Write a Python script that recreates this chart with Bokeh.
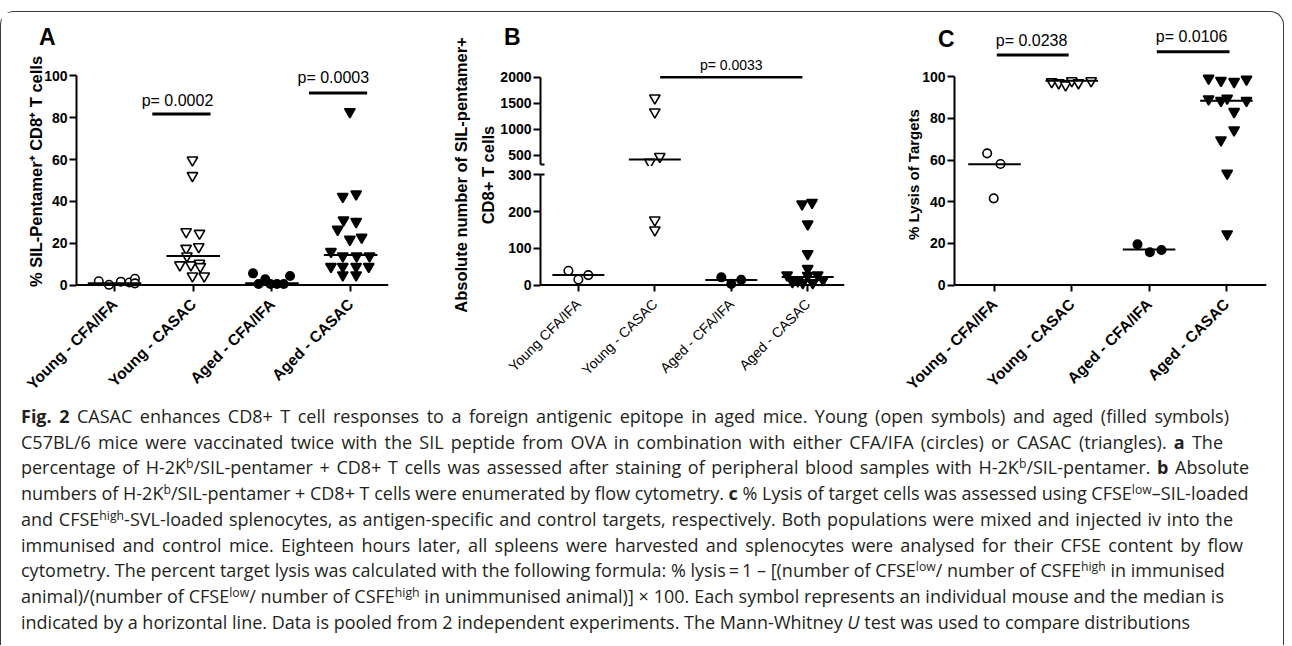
import math
from bokeh.plotting import figure
from bokeh.models import Range1d, FixedTicker, Span, Div, LinearAxis
from bokeh.layouts import row, column
from bokeh.core.properties import value
from bokeh.embed import file_html
from bokeh.resources import INLINE

FONT = "Liberation Sans"

# ---------------- data ----------------
groups_a = ["Young - CFA/IFA", "Young - CASAC", "Aged - CFA/IFA", "Aged - CASAC"]
groups_b = ["Young CFA/IFA", "Young - CASAC", "Aged - CFA/IFA", "Aged - CASAC"]
groups_c = ["Young - CFA/IFA", "Young - CASAC", "Aged - CFA/IFA", "Aged - CASAC"]

# Panel A: % SIL-pentamer+ CD8+ T cells (values, horizontal jitter in group widths)
a_young_cfa = [1.8, 0.1, 1.6, 1.2, 3.0, 0.8]
a_young_cfa_jit = [-0.20, -0.07, 0.08, 0.19, 0.26, 0.26]
a_young_casac = [59.8, 52.3, 25.5, 24.7, 17.5, 18.3, 13.9, 9.6, 9.6, 10.4, 8.8, 4.3, 4.3]
a_young_casac_jit = [-0.01, -0.01, -0.09, 0.08, -0.09, 0.07, -0.08, -0.17, -0.03, 0.08, 0.09, -0.01, 0.14]
a_aged_cfa = [5.6, 2.7, 0.5, 0.5, 0.5, 0.5, 4.3]
a_aged_cfa_jit = [-0.24, -0.085, -0.17, -0.02, 0.064, 0.15, 0.23]
a_aged_casac = [82.9, 42.3, 43.5, 31.1, 30.3, 26.6, 21.8, 22.8, 16.0, 13.9, 13.9, 13.9,
                8.8, 8.8, 8.8, 8.8, 4.8, 4.8]
a_aged_casac_jit = [-0.01, -0.10, 0.07, -0.09, 0.07, -0.165, -0.01, 0.14, -0.25, -0.10, 0.076, 0.24,
                    -0.25, -0.10, 0.07, 0.23, -0.10, 0.07]
a_medians = [0.8, 13.9, 0.8, 14.4]
a_p_text = ["p= 0.0002", "p= 0.0003"]
a_p_from = [1.48, 3.47]
a_p_to = [2.22, 4.21]
a_p_line = [81.8, 91.9]
a_p_text_x = [1.80, 3.78]
a_p_text_y = [88.5, 99.4]

# Panel B: absolute number of SIL-pentamer+ CD8+ T cells
b_title_lines = ["Absolute number of SIL-pentamer+", "CD8+ T cells"]
b_young_cfa = [39, 15, 27]
b_young_cfa_jit = [-0.13, 0.0, 0.13]
b_young_casac = [1600, 1330, 470, 357, 177, 150]
b_young_casac_jit = [0.0, 0.0, 0.065, -0.065, 0.0, 0.0]
b_aged_cfa = [21, 3, 14]
b_aged_cfa_jit = [-0.13, 0.0, 0.13]
b_aged_casac = [221, 225, 166, 85, 45, 27, 9, 11, 6, 26, 6, 27, 14]
b_aged_casac_jit = [-0.074, 0.057, 0.0, 0.0, 0.0, -0.27, -0.2, -0.13, -0.065, 0.0, 0.065, 0.13, 0.2]
b_medians = [27, 415, 14, 22]
b_p_text = ["p= 0.0033"]
b_p_from = [2.07]
b_p_to = [3.93]
b_p_line = [2000]
b_p_text_x = [3.0]
b_p_text_y = [2237]
b_break = 300          # top of lower segment
b_upper_start = 326    # bottom of upper segment

# Panel C: % lysis of targets
c_young_cfa = [63.2, 58.1, 41.6]
c_young_cfa_jit = [-0.095, 0.078, -0.01]
c_young_casac = [97.5, 97.0, 96.0, 98.0, 97.0, 98.0]
c_young_casac_jit = [-0.26, -0.17, -0.08, 0.0, 0.086, 0.25]
c_aged_cfa = [19.5, 15.7, 16.8]
c_aged_cfa_jit = [-0.15, 0.01, 0.16]
c_aged_casac = [99.2, 98.1, 97.6, 98.7, 89.3, 88.5, 89.6, 88.5, 83.2, 74.4, 69.6, 53.6, 24.5]
c_aged_casac_jit = [-0.23, -0.07, 0.10, 0.26, -0.23, -0.07, 0.01, 0.26, 0.10, 0.10, -0.07, 0.01, 0.01]
c_medians = [58, 98, 17, 88.5]
c_p_text = ["p= 0.0238", "p= 0.0106"]
c_p_from = [1.03, 3.10]
c_p_to = [1.96, 4.04]
c_p_line = [110.4, 112.0]
c_p_text_x = [1.48, 3.55]
c_p_text_y = [117.6, 119.5]

MED_HALF = 0.34


# ---------------- helpers ----------------
def base_fig(width, height, x_range, y_range, ml, mr, mt, mb, xaxis=True, yaxis=True):
    kw = {}
    if not xaxis:
        kw["x_axis_location"] = None
    if not yaxis:
        kw["y_axis_location"] = None
    p = figure(width=width, height=height, x_range=x_range, y_range=y_range,
               min_border_left=ml, min_border_right=mr, min_border_top=mt, min_border_bottom=mb,
               toolbar_location=None, output_backend="svg", title=None, **kw)
    p.outline_line_color = None
    p.xgrid.visible = False
    p.ygrid.visible = False
    p.background_fill_color = "white"
    p.border_fill_color = "white"
    return p


def style_yaxis(ax, ticks, bounds, label=None, minor=None, label_size="15px", label_standoff=0):
    ax.ticker = FixedTicker(ticks=ticks, minor_ticks=minor or [])
    ax.bounds = bounds
    ax.axis_line_width = 2
    ax.axis_line_color = "black"
    ax.major_tick_line_width = 2
    ax.major_tick_out = 7
    ax.major_tick_in = 0
    ax.minor_tick_line_width = 2
    ax.minor_tick_out = 0
    ax.minor_tick_in = 4 if minor else 0
    ax.major_label_text_font = FONT
    ax.major_label_text_font_size = "14px"
    ax.major_label_text_font_style = "bold"
    ax.major_label_text_color = "black"
    ax.major_label_standoff = 2
    if label is not None:
        ax.axis_label = label
        ax.axis_label_text_font = FONT
        ax.axis_label_text_font_size = label_size
        ax.axis_label_text_font_style = "bold"
        ax.axis_label_text_color = "black"
        ax.axis_label_standoff = label_standoff


def label_axis(ax, text, standoff):
    ax.ticker = FixedTicker(ticks=[], minor_ticks=[])
    ax.axis_line_color = None
    ax.major_tick_out = 0
    ax.major_tick_in = 0
    ax.minor_tick_out = 0
    ax.minor_tick_in = 0
    ax.major_label_standoff = 0
    ax.axis_label = text
    ax.axis_label_text_font = FONT
    ax.axis_label_text_font_size = "16.5px"
    ax.axis_label_text_font_style = "bold"
    ax.axis_label_text_color = "black"
    ax.axis_label_text_line_height = 0.9
    ax.axis_label_standoff = standoff


def letter_axis(ax, y, txt, standoff):
    # panel letter shown as the only label of a tick-less axis
    ax.ticker = FixedTicker(ticks=[y], minor_ticks=[])
    ax.major_label_overrides = {y: txt}
    ax.axis_line_color = None
    ax.major_tick_out = 0
    ax.major_tick_in = 0
    ax.minor_tick_out = 0
    ax.minor_tick_in = 0
    ax.major_label_standoff = standoff
    ax.major_label_text_font = FONT
    ax.major_label_text_font_size = "23px"
    ax.major_label_text_font_style = "bold"
    ax.major_label_text_color = "black"


def style_xaxis(ax, labels, zero_gap, bold=True, size="15.5px"):
    ax.ticker = FixedTicker(ticks=[1, 2, 3, 4], minor_ticks=[])
    ax.major_label_overrides = {i + 1: lab for i, lab in enumerate(labels)}
    ax.axis_line_color = None
    ax.major_tick_line_width = 2
    ax.major_tick_in = zero_gap
    ax.major_tick_out = 0
    ax.minor_tick_in = 0
    ax.minor_tick_out = 0
    ax.major_label_orientation = math.pi / 4
    ax.major_label_standoff = 10
    ax.major_label_text_font = FONT
    ax.major_label_text_font_size = size
    ax.major_label_text_font_style = "bold" if bold else "normal"
    ax.major_label_text_color = "black"


def draw_points(p, idx, vals, jit, marker, filled, keep=None):
    xs, ys = [], []
    for v, j in zip(vals, jit):
        if keep is None or keep(v):
            xs.append(idx + j)
            ys.append(v)
    if not xs:
        return
    size = 8.5 if marker == "circle" else 10.5
    p.scatter(xs, ys, marker=marker, size=size,
              fill_color="black" if filled else "white",
              line_color="black", line_width=1.6)


def draw_medians(p, meds, keep=None):
    x0, x1, ys = [], [], []
    for i, m in enumerate(meds):
        if keep is None or keep(m):
            x0.append(i + 1 - MED_HALF)
            x1.append(i + 1 + MED_HALF)
            ys.append(m)
    if x0:
        p.segment(x0=x0, x1=x1, y0=ys, y1=ys, line_color="black", line_width=2)


def draw_pvals(p, texts, x0, x1, yl, tx, ty, size="16px", lw=3):
    p.segment(x0=x0, x1=x1, y0=yl, y1=yl, line_color="black", line_width=lw)
    p.text(x=tx, y=ty, text=texts, text_font=value(FONT), text_font_size=size,
           text_align="center", text_baseline="middle", text_color="black")


# ---------------- panel A ----------------
ax_range = Range1d(0.517, 4.481)
bandA = base_fig(431, 39, ax_range, Range1d(111.72, 130.4), 75, 44, 0, 0, xaxis=False)
letter_axis(bandA.yaxis[0], 117, "A", 21)

pA = base_fig(431, 350, ax_range, Range1d(-3.1, 111.72), 75, 44, 0, 110)
style_yaxis(pA.yaxis[0], [0, 20, 40, 60, 80, 100], (0, 100),
            label="% SIL-Pentamer\u207a CD8\u207a T cells", label_size="16.5px", label_standoff=-4)
style_xaxis(pA.xaxis[0], groups_a, 7)
pA.add_layout(Span(location=0, dimension="width", line_color="black", line_width=2))
draw_points(pA, 1, a_young_cfa, a_young_cfa_jit, "circle", False)
draw_points(pA, 2, a_young_casac, a_young_casac_jit, "inverted_triangle", False)
draw_points(pA, 3, a_aged_cfa, a_aged_cfa_jit, "circle", True)
draw_points(pA, 4, a_aged_casac, a_aged_casac_jit, "inverted_triangle", True)
draw_medians(pA, a_medians)
draw_pvals(pA, a_p_text, a_p_from, a_p_to, a_p_line, a_p_text_x, a_p_text_y)

# ---------------- panel B axis title holder (two stacked label-only axes) ----------------
pL = figure(width=65, height=389, x_range=Range1d(0, 1), y_range=Range1d(0, 1),
            min_border_left=64, min_border_right=0, min_border_top=11, min_border_bottom=75,
            toolbar_location=None, output_backend="svg", x_axis_location=None, title=None)
pL.outline_line_color = None
pL.xgrid.visible = False
pL.ygrid.visible = False
label_axis(pL.yaxis[0], b_title_lines[1], 0)
outer = LinearAxis()
label_axis(outer, b_title_lines[0], 6)
pL.add_layout(outer, "left")

# ---------------- panel B (broken axis: upper + lower) ----------------
bx = Range1d(0.5046, 4.481)
bandB = base_fig(365, 39, bx, Range1d(2498, 3251), 42, 18, 0, 0, xaxis=False)
letter_axis(bandB.yaxis[0], 2720, "B", 20)

pBu = base_fig(365, 115, bx, Range1d(278, 2498), 42, 18, 0, 0, xaxis=False)
style_yaxis(pBu.yaxis[0], [500, 1000, 1500, 2000], (b_upper_start, 2000), minor=[b_upper_start])
is_up = lambda v: v > b_break
draw_points(pBu, 2, b_young_casac, b_young_casac_jit, "inverted_triangle", False, keep=is_up)
draw_points(pBu, 4, b_aged_casac, b_aged_casac_jit, "inverted_triangle", True, keep=is_up)
draw_medians(pBu, b_medians, keep=is_up)
draw_pvals(pBu, b_p_text, b_p_from, b_p_to, b_p_line, b_p_text_x, b_p_text_y, size="14px", lw=2.5)

pBl = base_fig(365, 235, bx, Range1d(-17.7, 306.8), 42, 18, 6, 110)
style_yaxis(pBl.yaxis[0], [0, 100, 200, 300], (0, b_break), minor=[b_break])
style_xaxis(pBl.xaxis[0], groups_b, 7, bold=False, size="14px")
pBl.add_layout(Span(location=0, dimension="width", line_color="black", line_width=2))
is_low = lambda v: v <= b_break
draw_points(pBl, 1, b_young_cfa, b_young_cfa_jit, "circle", False, keep=is_low)
draw_points(pBl, 2, b_young_casac, b_young_casac_jit, "inverted_triangle", False, keep=is_low)
draw_points(pBl, 3, b_aged_cfa, b_aged_cfa_jit, "circle", True, keep=is_low)
draw_points(pBl, 4, b_aged_casac, b_aged_casac_jit, "inverted_triangle", True, keep=is_low)
draw_medians(pBl, b_medians, keep=is_low)

# ---------------- panel C ----------------
cx = Range1d(0.4825, 4.519)
bandC = base_fig(411, 45, cx, Range1d(109.2, 130.8), 92, 7, 0, 0, xaxis=False)
letter_axis(bandC.yaxis[0], 118, "C", 0)
draw_pvals(bandC, c_p_text, c_p_from, c_p_to, c_p_line, c_p_text_x, c_p_text_y)

pC = base_fig(411, 344, cx, Range1d(-3.12, 109.2), 92, 7, 0, 110)
style_yaxis(pC.yaxis[0], [0, 20, 40, 60, 80, 100], (0, 100), label="% Lysis of Targets",
            label_size="15px", label_standoff=-3)
style_xaxis(pC.xaxis[0], groups_c, 7)
pC.add_layout(Span(location=0, dimension="width", line_color="black", line_width=2))
draw_points(pC, 1, c_young_cfa, c_young_cfa_jit, "circle", False)
draw_points(pC, 2, c_young_casac, c_young_casac_jit, "inverted_triangle", False)
draw_points(pC, 3, c_aged_cfa, c_aged_cfa_jit, "circle", True)
draw_points(pC, 4, c_aged_casac, c_aged_casac_jit, "inverted_triangle", True)
draw_medians(pC, c_medians)

# ---------------- caption ----------------
SUP = "<sup style='font-size:0.68em;line-height:0;vertical-align:0.5em'>{}</sup>"
caption_lines = [
    "<b>Fig. 2</b> CASAC enhances CD8+ T cell responses to a foreign antigenic epitope in aged mice. Young (open symbols) and aged (filled symbols)",
    "C57BL/6 mice were vaccinated twice with the SIL peptide from OVA in combination with either CFA/IFA (circles) or CASAC (triangles). <b>a</b> The",
    "percentage of H-2K" + SUP.format("b") + "/SIL-pentamer + CD8+ T cells was assessed after staining of peripheral blood samples with H-2K" + SUP.format("b") + "/SIL-pentamer. <b>b</b> Absolute",
    "numbers of H-2K" + SUP.format("b") + "/SIL-pentamer + CD8+ T cells were enumerated by flow cytometry. <b>c</b> % Lysis of target cells was assessed using CFSE" + SUP.format("low") + "\u2013SIL-loaded",
    "and CFSE" + SUP.format("high") + "-SVL-loaded splenocytes, as antigen-specific and control targets, respectively. Both populations were mixed and injected iv into the",
    "immunised and control mice. Eighteen hours later, all spleens were harvested and splenocytes were analysed for their CFSE content by flow",
    "cytometry. The percent target lysis was calculated with the following formula: % lysis\u2009=\u20091 \u2013 [(number of CFSE" + SUP.format("low") + "/ number of CSFE" + SUP.format("high") + " in immunised",
    "animal)/(number of CFSE" + SUP.format("low") + "/ number of CSFE" + SUP.format("high") + " in unimmunised animal)] \u00d7 100. Each symbol represents an individual mouse and the median is",
    "indicated by a horizontal line. Data is pooled from 2 independent experiments. The Mann-Whitney <i>U</i> test was used to compare distributions",
]
caption_widths = [1208, 1202, 1228, 1227, 1212, 1222, 1203, 1203, None]

html_lines = []
for txt, w in zip(caption_lines, caption_widths):
    if w is None:
        html_lines.append("<div style='white-space:nowrap'>" + txt + "</div>")
    else:
        html_lines.append("<div style='white-space:nowrap;width:%dpx;text-align:justify;"
                          "text-align-last:justify'>%s</div>" % (w, txt))
caption_html = ("<div style=\"font-family:'Open Sans';font-size:18px;line-height:25.7px;color:#231f20;"
                "padding-left:15px;margin-top:-2px;\">" + "".join(html_lines) + "</div>")
cap = Div(text=caption_html, width=1272, height=234)

layout = column(
    row(column(bandA, pA), pL, column(bandB, pBu, pBl), column(bandC, pC)),
    cap,
    styles={"border": "1.5px solid #3a3a3a", "border-bottom": "none",
            "border-radius": "14px 14px 0 0", "margin-top": "11px"},
)

open("out.html", "w").write(file_html(layout, INLINE))
